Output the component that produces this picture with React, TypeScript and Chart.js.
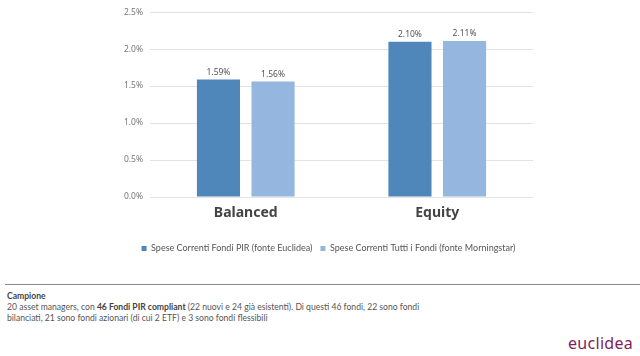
import React, { useEffect, useRef } from "react";
import { Chart, registerables } from "chart.js";

Chart.register(...registerables);

const categories = ["Balanced", "Equity"];
const seriesNames = [
  "Spese Correnti Fondi PIR (fonte Euclidea)",
  "Spese Correnti Tutti i Fondi (fonte Morningstar)",
];
const pirValues = [1.59, 2.1];
const allFundsValues = [1.56, 2.11];
const seriesColors = ["#4f87bb", "#95b6de"];
const yTicks = [0, 0.5, 1.0, 1.5, 2.0, 2.5];

const valueLabels = {
  id: "valueLabels",
  afterDatasetsDraw(chart: any) {
    const ctx = chart.ctx;
    ctx.save();
    ctx.font = "8.5px 'Noto Sans'";
    ctx.fillStyle = "#555";
    ctx.textAlign = "center";
    ctx.textBaseline = "bottom";
    chart.data.datasets.forEach((ds: any, i: number) => {
      const meta = chart.getDatasetMeta(i);
      meta.data.forEach((bar: any, j: number) => {
        ctx.fillText(ds.data[j].toFixed(2) + "%", bar.x, bar.y - 3);
      });
    });
    ctx.restore();
  },
};

export default function App() {
  const ref = useRef<HTMLCanvasElement>(null);
  useEffect(() => {
    const chart = new Chart(ref.current!, {
      type: "bar",
      data: {
        labels: categories,
        datasets: [
          { label: seriesNames[0], data: pirValues, backgroundColor: seriesColors[0] },
          { label: seriesNames[1], data: allFundsValues, backgroundColor: seriesColors[1] },
        ],
      },
      options: {
        animation: false,
        responsive: false,
        maintainAspectRatio: false,
        layout: { padding: { left: 124, right: 107, top: 12, bottom: 0 } },
        datasets: {
          bar: { categoryPercentage: 0.57, barPercentage: 0.79 },
        } as any,
        scales: {
          x: {
            grid: { display: false, drawTicks: false },
            border: { display: false },
            ticks: {
              padding: 8,
              color: "#444",
              font: { family: "'Noto Sans'", size: 14, weight: "bold" },
            },
          },
          y: {
            min: 0,
            max: 2.5,
            afterFit: (s: any) => {
              s.width = 26;
            },
            afterBuildTicks: (s: any) => {
              s.ticks = yTicks.map((v) => ({ value: v }));
            },
            grid: { color: "#e3e3e3", drawTicks: false, lineWidth: 1 },
            border: { display: false },
            ticks: {
              padding: 7,
              color: "#777",
              font: { family: "'Noto Sans'", size: 8.5 },
              callback: (v: any) => Number(v).toFixed(1) + "%",
            },
          },
        },
        plugins: {
          legend: {
            position: "bottom",
            title: {
              display: true,
              text: "",
              font: { size: 1 },
              padding: { top: 5, bottom: 0 },
            },
            labels: {
              boxWidth: 5,
              boxHeight: 5,
              padding: 8,
              color: "#555",
              font: { family: "Lato", size: 9 },
            },
          },
          tooltip: { enabled: false },
        },
      },
      plugins: [valueLabels],
    });
    return () => chart.destroy();
  }, []);

  return (
    <div
      style={{
        position: "fixed",
        left: 0,
        top: 0,
        width: 640,
        height: 356,
        background: "#fff",
        overflow: "hidden",
      }}
    >
      <canvas ref={ref} width={640} height={263} style={{ position: "absolute", left: 0, top: 0 }} />
      <div
        style={{
          position: "absolute",
          left: 5,
          right: 0,
          top: 284,
          height: 0,
          borderTop: "1.5px solid #8a8a8a",
        }}
      />
      <div
        style={{
          position: "absolute",
          left: 7,
          top: 291,
          width: 440,
          fontFamily: "Lato, sans-serif",
          fontSize: 8.6,
          lineHeight: "11px",
          color: "#555",
        }}
      >
        <div style={{ fontWeight: "bold", color: "#444" }}>Campione</div>
        <div>
          20 asset managers, con <b style={{ color: "#444" }}>46 Fondi PIR compliant</b> (22 nuovi e 24 già
          esistenti). Di questi 46 fondi, 22 sono fondi
          <br />
          bilanciati, 21 sono fondi azionari (di cui 2 ETF) e 3 sono fondi flessibili
        </div>
      </div>
      <div
        style={{
          position: "absolute",
          left: 568,
          top: 333,
          fontFamily: "'Noto Sans', sans-serif",
          fontSize: 16,
          lineHeight: "20px",
          color: "#7d1f5e",
          letterSpacing: 0.3,
        }}
      >
        euclidea
      </div>
    </div>
  );
}
